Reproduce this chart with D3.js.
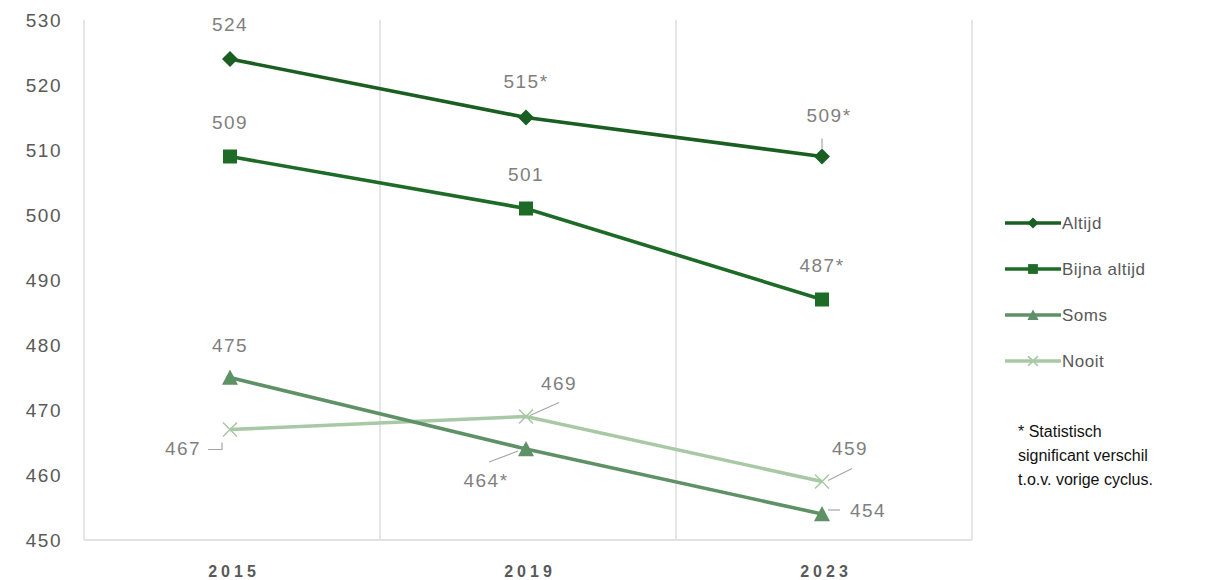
<!DOCTYPE html>
<html lang="nl">
<head>
  <meta charset="UTF-8">
  <title>Scores per frequentie</title>
  <script src="https://d3js.org/d3.v7.min.js"></script>
  <style>
    body {
      margin: 0;
      background: #fff;
    }
    svg {
      display: block;
    }
    .tick-label {
      font-family: 'Liberation Sans', Arial, sans-serif;
      font-size: 19px;
      fill: #595959;
      letter-spacing: 1.5px;
    }
    .year-label {
      font-family: 'Liberation Sans', Arial, sans-serif;
      font-size: 16px;
      font-weight: bold;
      fill: #595959;
      letter-spacing: 4px;
    }
    .data-label {
      font-family: 'Liberation Sans', Arial, sans-serif;
      font-size: 19px;
      fill: #7f7f7f;
      letter-spacing: 1.5px;
    }
    .legend-label {
      font-family: 'Liberation Sans', Arial, sans-serif;
      font-size: 17px;
      fill: #595959;
      letter-spacing: 0.5px;
    }
    .note {
      font-family: 'Liberation Sans', Arial, sans-serif;
      font-size: 16px;
      fill: #111;
    }
  </style>
</head>
<body>
  <svg width="1207" height="580"></svg>

  <script>
    // data
    const years = ["2015", "2019", "2023"];
    const seriesNames = ["Altijd", "Bijna altijd", "Soms", "Nooit"];
    const altijd = [524, 515, 509];
    const bijnaAltijd = [509, 501, 487];
    const soms = [475, 464, 454];
    const nooit = [467, 469, 459];
    // significant difference vs previous cycle (label gets a *)
    const sigAltijd = [false, true, true];
    const sigBijna = [false, false, true];
    const sigSoms = [false, true, false];
    const sigNooit = [false, false, false];
    const yTicks = [450, 460, 470, 480, 490, 500, 510, 520, 530];
    const noteLines = ["* Statistisch", "significant verschil", "t.o.v. vorige cyclus."];

    // layout
    const plot = { left: 84, right: 972, top: 20, bottom: 540 };
    const colors = ["#1b5e22", "#1e6b27", "#5f9166", "#a9c8a6"];
    const markers = ["diamond", "square", "triangle", "cross"];

    // label offsets from the point (dx, dy) and optional leader lines
    const labelPos = [
      [{ dx: 0, dy: -35 }, { dx: 0, dy: -36 }, { dx: 7, dy: -41, leader: [[0, -18], [0, -8]] }],
      [{ dx: 0, dy: -34 }, { dx: 0, dy: -34 }, { dx: 0, dy: -34 }],
      [{ dx: 0, dy: -32 }, { dx: -40, dy: 31, leader: [[-37, 13], [-8, 2]] },
       { dx: 46, dy: -4, leader: [[18, -4], [6, -4]] }],
      [{ dx: -47, dy: 19, leader: [[-22, 20], [-8, 20], [-8, 13]] },
       { dx: 33, dy: -33, leader: [[33, -14], [4, -1]] },
       { dx: 28, dy: -33, leader: [[30, -13], [6, -1]] }]
    ];

    const series = seriesNames.map((name, i) => ({
      name: name,
      values: [altijd, bijnaAltijd, soms, nooit][i],
      sig: [sigAltijd, sigBijna, sigSoms, sigNooit][i],
      color: colors[i],
      marker: markers[i],
      labels: labelPos[i]
    }));

    const svg = d3.select("svg");

    const x = d3.scaleBand()
      .domain(years)
      .range([plot.left, plot.right]);

    const y = d3.scaleLinear()
      .domain([450, 530])
      .range([plot.bottom, plot.top]);

    // vertical grid lines at band boundaries
    const gridX = [plot.left].concat(years.map(d => x(d) + x.bandwidth()));
    svg.append("g")
      .selectAll("line")
      .data(gridX)
      .join("line")
      .attr("x1", d => d).attr("x2", d => d)
      .attr("y1", plot.top).attr("y2", plot.bottom)
      .attr("stroke", "#d9d9d9")
      .attr("stroke-width", 1.3);

    // bottom axis line
    svg.append("line")
      .attr("x1", plot.left).attr("x2", plot.right)
      .attr("y1", plot.bottom).attr("y2", plot.bottom)
      .attr("stroke", "#d9d9d9")
      .attr("stroke-width", 1.5);

    // y tick labels
    svg.append("g")
      .selectAll("text")
      .data(yTicks)
      .join("text")
      .attr("class", "tick-label")
      .attr("x", 62)
      .attr("y", d => y(d))
      .attr("text-anchor", "end")
      .attr("dominant-baseline", "central")
      .text(d => d);

    // x labels
    svg.append("g")
      .selectAll("text")
      .data(years)
      .join("text")
      .attr("class", "year-label")
      .attr("x", d => x(d) + x.bandwidth() / 2 + 2)
      .attr("y", 571)
      .attr("text-anchor", "middle")
      .attr("dominant-baseline", "central")
      .text(d => d);

    const cx = (d, i) => x(years[i]) + x.bandwidth() / 2 - 2;

    const line = d3.line()
      .x((d, i) => cx(d, i))
      .y(d => y(d));

    // marker drawn around (px, py); k scales it down for the legend
    function drawMarker(g, type, color, px, py, k) {
      k = k || 1;
      if (type === "diamond") {
        const r = 8 * k;
        g.append("path")
          .attr("d", `M${px},${py - r}L${px + r},${py}L${px},${py + r}L${px - r},${py}Z`)
          .attr("fill", color);
      } else if (type === "square") {
        const r = 7 * k;
        g.append("rect")
          .attr("x", px - r).attr("y", py - r)
          .attr("width", 2 * r).attr("height", 2 * r)
          .attr("fill", color);
      } else if (type === "triangle") {
        const r = 8 * k;
        g.append("path")
          .attr("d", `M${px},${py - r}L${px + r},${py + r * 0.9}L${px - r},${py + r * 0.9}Z`)
          .attr("fill", color);
      } else {
        const r = 7 * k;
        g.append("path")
          .attr("d", `M${px - r},${py - r}L${px + r},${py + r}M${px - r},${py + r}L${px + r},${py - r}`)
          .attr("stroke", color)
          .attr("stroke-width", 1.6)
          .attr("fill", "none");
      }
    }

    // draw series in reverse so the darker lines end up on top
    series.slice().reverse().forEach(s => {
      const g = svg.append("g");
      g.append("path")
        .datum(s.values)
        .attr("d", line)
        .attr("fill", "none")
        .attr("stroke", s.color)
        .attr("stroke-width", 3.6);
      s.values.forEach((v, i) => drawMarker(g, s.marker, s.color, cx(v, i), y(v)));
    });

    // data labels and leader lines
    series.forEach(s => {
      const g = svg.append("g");
      s.values.forEach((v, i) => {
        const px = cx(v, i), py = y(v);
        const lp = s.labels[i];
        if (lp.leader) {
          g.append("path")
            .attr("d", d3.line()(lp.leader.map(p => [px + p[0], py + p[1]])))
            .attr("fill", "none")
            .attr("stroke", "#a6a6a6")
            .attr("stroke-width", 1.2);
        }
        g.append("text")
          .attr("class", "data-label")
          .attr("x", px + lp.dx)
          .attr("y", py + lp.dy)
          .attr("text-anchor", "middle")
          .attr("dominant-baseline", "central")
          .text(v + (s.sig[i] ? "*" : ""));
      });
    });

    // legend
    const legend = svg.append("g")
      .selectAll("g")
      .data(series)
      .join("g")
      .attr("transform", (d, i) => `translate(1005,${223 + i * 46})`);

    legend.append("line")
      .attr("x1", 0).attr("x2", 56)
      .attr("stroke", d => d.color)
      .attr("stroke-width", 3.6);

    legend.each(function(d) {
      drawMarker(d3.select(this), d.marker, d.color, 28, 0, 0.7);
    });

    legend.append("text")
      .attr("class", "legend-label")
      .attr("x", 57)
      .attr("y", 0)
      .attr("dominant-baseline", "central")
      .text(d => d.name);

    // footnote
    svg.append("g")
      .selectAll("text")
      .data(noteLines)
      .join("text")
      .attr("class", "note")
      .attr("x", 1018)
      .attr("y", (d, i) => 431 + i * 24)
      .attr("dominant-baseline", "central")
      .text(d => d);
  </script>
</body>
</html>
